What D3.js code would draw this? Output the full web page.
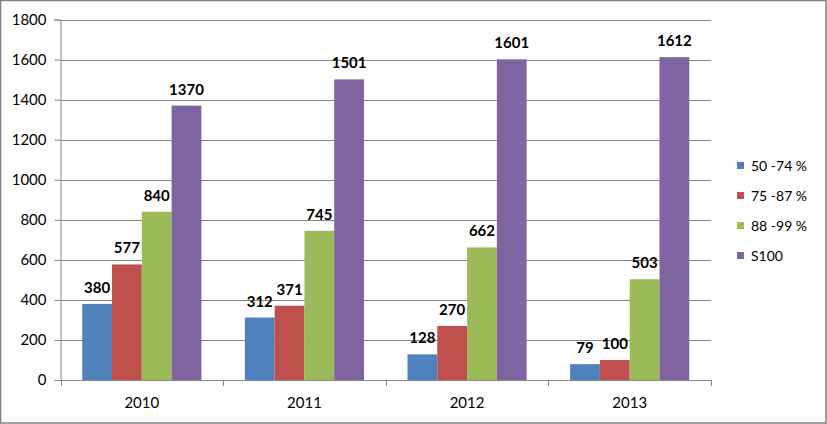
<!DOCTYPE html>
<html>
<head>
<meta charset="utf-8">
<script src="https://cdn.jsdelivr.net/npm/d3@7"></script>
<style>
  html, body { margin: 0; padding: 0; background: #fff; }
  svg { display: block; }
  text { font-family: Lato, "Open Sans", sans-serif; }
</style>
</head>
<body>
<div id="chart"></div>
<script>
const years = ['2010', '2011', '2012', '2013']
const seriesNames = ['50 -74 %', '75 -87 %', '88 -99 %', 'S100']
const seriesColors = ['#4F81BD', '#C0504D', '#9BBB59', '#8064A2']
const s50 = [380, 312, 128, 79]
const s75 = [577, 371, 270, 100]
const s88 = [840, 745, 662, 503]
const s100 = [1370, 1501, 1601, 1612]
const yTicks = [0, 200, 400, 600, 800, 1000, 1200, 1400, 1600, 1800]

const width = 827, height = 424
const plot = { left: 60.5, right: 711, top: 19.5, bottom: 380 }
const values = [s50, s75, s88, s100]

const svg = d3.select('#chart').append('svg')
  .attr('width', width)
  .attr('height', height)

// rahmen
svg.append('rect')
  .attr('x', 0.5).attr('y', 0.5)
  .attr('width', width - 1.5).attr('height', height - 1.5)
  .attr('fill', '#fff')
  .attr('stroke', '#7f7f7f')
  .attr('stroke-width', 1.5)

const x0 = d3.scaleBand().domain(years).range([plot.left, plot.right]).paddingInner(0).paddingOuter(0)
// excel gap width ~150%
const x1 = d3.scaleBand().domain(seriesNames).range([0, x0.bandwidth()]).paddingInner(0).paddingOuter(0.73)
const y = d3.scaleLinear().domain([0, 1800]).range([plot.bottom, plot.top])

// gridlines
svg.append('g').selectAll('line').data(yTicks.slice(1)).join('line')
  .attr('x1', plot.left).attr('x2', plot.right)
  .attr('y1', d => Math.round(y(d)) + 0.5).attr('y2', d => Math.round(y(d)) + 0.5)
  .attr('stroke', '#868686')

// y axis
const yAxis = svg.append('g')
  .attr('transform', `translate(${plot.left},0)`)
  .call(d3.axisLeft(y).tickValues(yTicks).tickSize(6).tickPadding(8).tickFormat(d3.format('d')))
yAxis.select('.domain').attr('stroke', '#868686')
yAxis.selectAll('.tick line').attr('stroke', '#868686')
yAxis.selectAll('.tick text').attr('font-size', 15).attr('fill', '#000').style('font-family', 'Lato, sans-serif')

// bars
const groups = svg.append('g').selectAll('g').data(years).join('g')
  .attr('transform', d => `translate(${x0(d)},0)`)

groups.selectAll('rect')
  .data((d, i) => seriesNames.map((s, j) => ({ s, j, v: values[j][i] })))
  .join('rect')
  .attr('x', d => x1(d.s))
  .attr('y', d => y(d.v))
  .attr('width', x1.bandwidth())
  .attr('height', d => y(0) - y(d.v))
  .attr('fill', d => seriesColors[d.j])

groups.selectAll('text')
  .data((d, i) => seriesNames.map((s, j) => ({ s, j, v: values[j][i] })))
  .join('text')
  .attr('x', d => x1(d.s) + x1.bandwidth() / 2)
  .attr('y', d => y(d.v) - 11)
  .attr('text-anchor', 'middle')
  .attr('font-size', 15)
  .attr('font-weight', 'bold')
  .attr('fill', '#000')
  .text(d => d.v)

// x axis
const xAxis = svg.append('g')
  .attr('transform', `translate(0,${plot.bottom})`)
  .call(d3.axisBottom(x0).tickSize(0).tickPadding(17))
xAxis.select('.domain').attr('stroke', '#868686')
xAxis.selectAll('.tick text').attr('font-size', 15).attr('fill', '#000').style('font-family', 'Lato, sans-serif')
svg.append('g').selectAll('line')
  .data(years.map(d => x0(d)).concat([plot.right]))
  .join('line')
  .attr('x1', d => Math.round(d) + 0.5).attr('x2', d => Math.round(d) + 0.5)
  .attr('y1', plot.bottom).attr('y2', plot.bottom + 6)
  .attr('stroke', '#868686')

// legend
const legend = svg.append('g').attr('transform', 'translate(737,0)')
const legendRows = legend.selectAll('g').data(seriesNames).join('g')
  .attr('transform', (d, i) => `translate(0,${166 + i * 30})`)
legendRows.append('rect')
  .attr('x', 0).attr('y', -4).attr('width', 7).attr('height', 7)
  .attr('fill', (d, i) => seriesColors[i])
legendRows.append('text')
  .attr('x', 14).attr('y', 0)
  .attr('dy', '0.35em')
  .attr('font-size', 14)
  .attr('fill', '#000')
  .text(d => d)
</script>
</body>
</html>
